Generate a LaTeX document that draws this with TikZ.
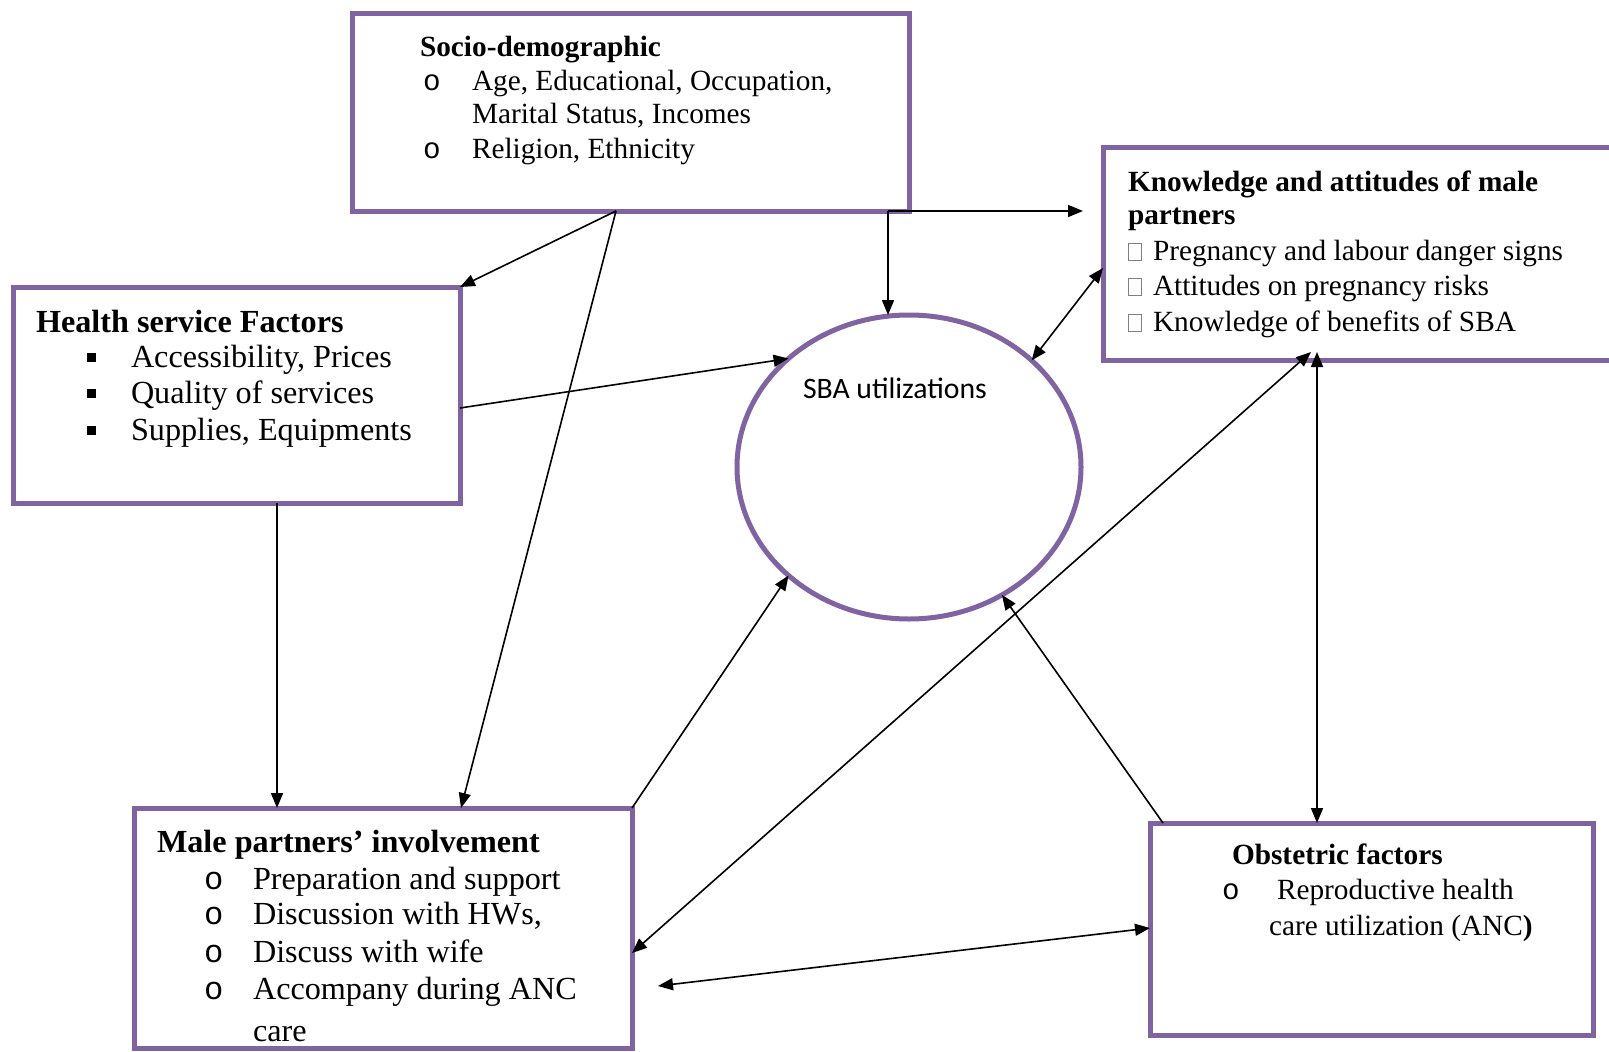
\documentclass[tikz,border=0pt]{standalone}
\usepackage{fontspec}
\setmainfont{Liberation Serif}
\newfontfamily\sbafont{Carlito}
\newfontfamily\bulfont{Liberation Mono}
\usetikzlibrary{arrows.meta,calc,shapes.geometric}
\definecolor{pur}{HTML}{8064A2}
\newcommand\szsm{\fontsize{29.3}{34}\selectfont}
\newcommand\szbg{\fontsize{32.2}{37}\selectfont}
\begin{document}
\begin{tikzpicture}[x=1pt,y=-1pt,
  box/.style={draw=pur,line width=5pt,rectangle,inner sep=0,outer sep=0},
  txt/.style={anchor=base west,inner sep=0,outer sep=0},
  sqb/.style={fill=black,minimum size=9pt,inner sep=0,outer sep=0},
  emb/.style={draw=gray,line width=0.8pt,minimum width=13pt,minimum height=17pt,inner sep=0,outer sep=0},
  arr/.style={line width=1.6pt,-{Triangle[length=15pt,width=12pt]}},
  darr/.style={line width=1.6pt,{Triangle[length=15pt,width=12pt]}-{Triangle[length=15pt,width=12pt]}}]
\clip (0,0) rectangle (1609,1052);
\fill[white] (0,0) rectangle (1609,1052);
% boxes
\node[box,minimum width=557pt,minimum height=198pt] (soc) at (630.5,112) {};
\node[box,minimum width=447pt,minimum height=216pt] (health) at (236.5,395) {};
\node[box,minimum width=537pt,minimum height=213pt] (kn) at (1371.5,253.5) {};
\node[box,minimum width=498pt,minimum height=240pt] (male) at (383,928) {};
\node[box,minimum width=443pt,minimum height=212pt] (obst) at (1371.5,929) {};
\node[draw=pur,line width=5pt,ellipse,minimum width=344pt,minimum height=304pt,inner sep=0,outer sep=0] (sba) at (909,467) {};
% socio text
\node[txt,font=\szsm\bfseries] (soct) at (420,56) {Socio-demographic};
\node[txt,font=\szsm\bulfont] (socb1) at (423,90) {o};
\node[txt,font=\szsm] (soc1) at (472,90) {Age, Educational, Occupation,};
\node[txt,font=\szsm] (soc2) at (472,123) {Marital Status, Incomes};
\node[txt,font=\szsm\bulfont] (socb2) at (423,158) {o};
\node[txt,font=\szsm] (soc3) at (472,158) {Religion, Ethnicity};
% health text
\node[txt,font=\szbg\bfseries] (ht) at (36,332) {Health service Factors};
\node[sqb] (hb1) at (91,357) {};
\node[txt,font=\szbg] (h1) at (131,367) {Accessibility, Prices};
\node[sqb] (hb2) at (91,393) {};
\node[txt,font=\szbg] (h2) at (131,403) {Quality of services};
\node[sqb] (hb3) at (91,430) {};
\node[txt,font=\szbg] (h3) at (131,440) {Supplies, Equipments};
% knowledge text
\node[txt,font=\szsm\bfseries] (kt1) at (1128,191) {Knowledge and attitudes of male};
\node[txt,font=\szsm\bfseries] (kt2) at (1128,224) {partners};
\node[emb] (kb1) at (1135,252) {};
\node[txt,font=\szsm] (k1) at (1153,260) {Pregnancy and labour danger signs};
\node[emb] (kb2) at (1135,287) {};
\node[txt,font=\szsm] (k2) at (1153,295) {Attitudes on pregnancy risks};
\node[emb] (kb3) at (1135,323) {};
\node[txt,font=\szsm] (k3) at (1153,331) {Knowledge of benefits of SBA};
% male text
\node[txt,font=\szbg\bfseries] (mt) at (157,852) {Male partners’ involvement};
\node[txt,font=\szbg\bulfont] (mb1) at (204,889) {o};
\node[txt,font=\szbg] (m1) at (253,889) {Preparation and support};
\node[txt,font=\szbg\bulfont] (mb2) at (204,924) {o};
\node[txt,font=\szbg] (m2) at (253,924) {Discussion with HWs,};
\node[txt,font=\szbg\bulfont] (mb3) at (204,962) {o};
\node[txt,font=\szbg] (m3) at (253,962) {Discuss with wife};
\node[txt,font=\szbg\bulfont] (mb4) at (204,999) {o};
\node[txt,font=\szbg] (m4) at (253,999) {Accompany during ANC};
\node[txt,font=\szbg] (m5) at (253,1041) {care};
% obstetric text
\node[txt,font=\szsm\bfseries] (ot) at (1232,864) {Obstetric factors};
\node[txt,font=\szsm\bulfont] (ob1) at (1222,899) {o};
\node[txt,font=\szsm] (o1) at (1277,899) {Reproductive health};
\node[txt,font=\szsm] (o2) at (1269,935) {care utilization (ANC\textbf{)}};
% SBA text
\node[txt,font=\sbafont\fontsize{29.7}{34}\selectfont] (sbat) at (803,398) {SBA utilizations};
% connectors
\coordinate (sa) at ($(soc.south west)+(264,0)$);
\draw[arr] (sa) -- (health.north east);
\draw[arr] (sa) -- ($(male.north west)+(327,0)$);
\coordinate (sj) at ($(soc.south east)+(-21,0)$);
\draw[arr] (sj) -- (sj |- sba.north);
\draw[arr] (sj) -- ($(kn.west |- sj)+(-20,0)$);
\draw[arr] ($(health.north east)+(0,121)$) -- (sba.138.7);
\coordinate (hd) at ($(health.south west)+(264,0)$);
\draw[arr] (hd) -- (hd |- male.north);
\draw[darr] ($(kn.north west)+(0,121)$) -- (sba.41.8);
\coordinate (kb) at ($(kn.south west)+(214,-8)$);
\draw[darr] (kb) -- (kb |- obst.north);
\draw[darr] ($(kb)+(-6,0)$) -- ($(male.north east)+(0,145)$);
\draw[arr] ($(obst.north west)+(13,0)$) -- (sba.-54.7);
\draw[arr] (male.north east) -- (sba.-138.4);
\draw[darr] ($(male.north east)+(26,178)$) -- ($(obst.north west)+(0,105)$);
\end{tikzpicture}
\end{document}
